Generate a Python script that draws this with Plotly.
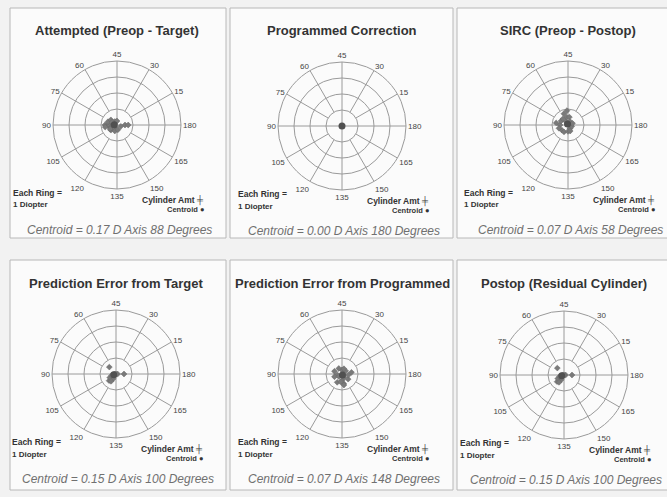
import plotly.graph_objects as go

W, H = 667, 497

# Panel titles
titles = [
    "Attempted (Preop - Target)",
    "Programmed Correction",
    "SIRC (Preop - Postop)",
    "Prediction Error from Target",
    "Prediction Error from Programmed",
    "Postop (Residual Cylinder)",
]

# Cylinder vectors per panel: magnitude (D) and axis (degrees)
attempted_cyl = [0.75, 0.5, 0.5, 0.5, 0.6, 0.4, 0.25, 0.5, 0.5, 0.75, 0.25, 0.25, 0.5, 0.35, 0.4, 0.3, 0.25, 0.5, 0.7, 0.25]
attempted_axis = [90, 90, 85, 95, 80, 100, 90, 70, 110, 95, 60, 120, 105, 75, 125, 140, 45, 180, 180, 170]

programmed_cyl = [0.0, 0.0, 0.0, 0.0, 0.0, 0.0]
programmed_axis = [180, 180, 180, 180, 180, 180]

sirc_cyl = [0.5, 0.75, 0.5, 0.25, 0.5, 0.75, 0.9, 0.5, 0.25, 0.25, 0.5, 0.5, 0.4, 0.25, 0.3, 0.6, 0.5, 0.4]
sirc_axis = [90, 85, 75, 60, 50, 55, 47, 40, 30, 150, 110, 120, 135, 170, 10, 100, 65, 145]

pe_target_cyl = [0.6, 0.5, 0.1, 0.25, 0.4, 0.5, 0.6, 0.35, 0.45, 0.3, 0.0, 0.1, 0.55]
pe_target_axis = [67, 180, 0, 112, 110, 115, 112, 120, 105, 100, 0, 90, 118]

pe_prog_cyl = [0.25, 0.4, 0.5, 0.3, 0.5, 0.6, 0.4, 0.6, 0.25, 0.5, 0.4, 0.6, 0.3, 0.25, 0.5, 0.35, 0.7]
pe_prog_axis = [45, 60, 80, 95, 100, 120, 135, 140, 150, 160, 175, 5, 20, 110, 130, 35, 140]

postop_cyl = [0.6, 0.5, 0.1, 0.25, 0.4, 0.5, 0.6, 0.35, 0.45, 0.3, 0.0, 0.1, 0.55]
postop_axis = [67, 180, 0, 112, 110, 115, 112, 120, 105, 100, 0, 90, 118]

# Centroid of each panel
centroid_cyl = [0.17, 0.00, 0.07, 0.15, 0.07, 0.15]
centroid_axis = [88, 180, 58, 100, 148, 100]

series_cyl = [attempted_cyl, programmed_cyl, sirc_cyl, pe_target_cyl, pe_prog_cyl, postop_cyl]
series_axis = [attempted_axis, programmed_axis, sirc_axis, pe_target_axis, pe_prog_axis, postop_axis]

# Double-angle labels around each plot (plot angle -> cylinder axis)
tick_angles = [0, 30, 60, 90, 120, 150, 180, 210, 240, 270, 300, 330]
tick_labels = ["180", "15", "30", "45", "60", "75", "90", "105", "120", "135", "150", "165"]
ring_values = [1, 2, 3, 4]

# Layout geometry (pixels)
centers = [(117, 125), (342, 126), (568, 125), (116, 374), (342, 374), (564, 375)]
R = 64
panel_x = [(10, 226), (230, 453), (457, 675)]
panel_y = [(8, 238), (260, 490)]

fig = go.Figure()
shapes = []
annotations = []


def px(x):
    return x / W


def py(y):
    return 1 - y / H


def ann(x, y, text, size, bold=False, italic=False, color="#333", xanchor="center"):
    t = f"<b>{text}</b>" if bold else text
    t = f"<i>{t}</i>" if italic else t
    annotations.append(dict(
        x=px(x), y=py(y), xref="paper", yref="paper", text=t, showarrow=False,
        xanchor=xanchor, yanchor="middle",
        font=dict(family="Liberation Sans, Arial", size=size, color=color),
    ))


for r in range(2):
    for c in range(3):
        x0, x1 = panel_x[c]
        y0, y1 = panel_y[r]
        shapes.append(dict(type="rect", xref="paper", yref="paper",
                           x0=px(x0), x1=px(x1), y0=py(y1), y1=py(y0),
                           line=dict(color="#b8b8b8", width=1), fillcolor="#fbfbfb", layer="below"))

# Spokes: axes through the centre, diagonals from the first ring outward
spoke_r, spoke_t = [], []
for a in tick_angles:
    start = 0 if a % 90 == 0 else ring_values[0]
    spoke_r += [start, ring_values[-1], None]
    spoke_t += [a, a, None]

for i in range(6):
    cx, cy = centers[i]
    pname = "polar" if i == 0 else f"polar{i + 1}"
    sub = "polar" if i == 0 else f"polar{i + 1}"

    fig.add_trace(go.Scatterpolar(r=spoke_r, theta=spoke_t, mode="lines",
                                  line=dict(color="#9a9a9a", width=1),
                                  hoverinfo="skip", showlegend=False, subplot=sub))
    fig.add_trace(go.Scatterpolar(
        r=series_cyl[i], theta=[2 * a for a in series_axis[i]], mode="markers",
        marker=dict(symbol="diamond", size=4.5, color="#7a7a7a",
                    line=dict(color="#666", width=0.5)),
        showlegend=False, subplot=sub))
    fig.add_trace(go.Scatterpolar(
        r=[centroid_cyl[i]], theta=[2 * centroid_axis[i]], mode="markers",
        marker=dict(symbol="circle", size=7, color="#505050"),
        showlegend=False, subplot=sub))

    fig.layout[pname] = dict(
        domain=dict(x=[px(cx - R), px(cx + R)], y=[py(cy + R), py(cy - R)]),
        bgcolor="rgba(0,0,0,0)",
        radialaxis=dict(range=[0, 4], tickvals=ring_values, showticklabels=False,
                        showline=False, ticks="", gridcolor="#9a9a9a", gridwidth=1),
        angularaxis=dict(rotation=0, direction="counterclockwise",
                         tickmode="array", tickvals=tick_angles, ticktext=tick_labels,
                         showgrid=False, showline=True, linecolor="#9a9a9a", linewidth=1,
                         ticks="", tickfont=dict(family="Liberation Sans, Arial", size=8, color="#444")),
    )

    ty = 31 if i < 3 else 283
    ann(cx, ty, titles[i], 13, bold=True, color="#333")
    ann(cx - 106, cy + 68, "Each Ring =", 8.5, bold=True, color="#333", xanchor="left")
    ann(cx - 106, cy + 80, "1 Diopter", 8, bold=True, color="#333", xanchor="left")
    ann(cx + 89, cy + 75, "Cylinder Amt \u256a", 8.5, bold=True, color="#333", xanchor="right")
    ann(cx + 89, cy + 84, "Centroid \u25cf", 7.5, bold=True, color="#333", xanchor="right")
    ann(cx + 2, cy + 105,
        f"Centroid = {centroid_cyl[i]:.2f} D Axis {centroid_axis[i]} Degrees",
        12, italic=True, color="#707070")

fig.update_layout(
    width=W, height=H, margin=dict(l=0, r=0, t=0, b=0),
    paper_bgcolor="#f2f2f2", plot_bgcolor="#f2f2f2",
    shapes=shapes, annotations=annotations, showlegend=False,
)

fig.write_html("out.html")
